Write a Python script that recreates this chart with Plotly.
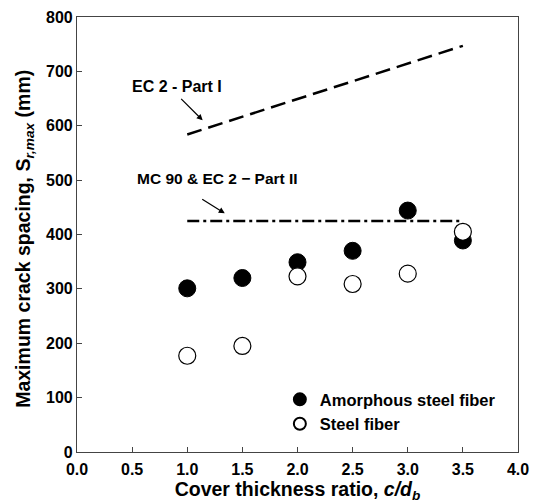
import plotly.graph_objects as go

ratio = [1.0, 1.5, 2.0, 2.5, 3.0, 3.5]
amorphous = [301, 320, 349, 370, 444, 389]
steel = [177, 195, 323, 309, 328, 405]
ec2_x = [1.0, 3.5]
ec2_y = [584, 747]
mc90_x = [1.0, 3.5]
mc90_y = [425, 425]

FONT = "Liberation Sans, Arial, sans-serif"
fig = go.Figure()
fig.add_trace(go.Scatter(x=ec2_x, y=ec2_y, mode="lines", showlegend=False,
                         line=dict(color="black", width=2.5, dash="15px,7px")))
fig.add_trace(go.Scatter(x=mc90_x, y=mc90_y, mode="lines", showlegend=False,
                         line=dict(color="black", width=2.5, dash="12px,4px,3px,4px")))
fig.add_trace(go.Scatter(x=ratio, y=amorphous, mode="markers", name="Amorphous steel fiber",
                         marker=dict(size=17, color="black", line=dict(color="black", width=1))))
fig.add_trace(go.Scatter(x=ratio, y=steel, mode="markers", name="Steel fiber",
                         marker=dict(size=17, color="white", line=dict(color="black", width=1.2))))

fig.add_annotation(text="EC 2 - Part I", x=0.91, y=673, xref="x", yref="y",
                   showarrow=False, font=dict(size=16, family=FONT, color="black", weight="bold"))
fig.add_annotation(x=1.14, y=610, xref="x", yref="y", ax=-23, ay=-23,
                   showarrow=True, arrowhead=2, arrowsize=1, arrowwidth=1.2, arrowcolor="black", text="")
fig.add_annotation(text="MC 90 & EC 2 − Part II", x=1.27, y=503, xref="x", yref="y",
                   showarrow=False, font=dict(size=15.5, family=FONT, color="black", weight="bold"))
fig.add_annotation(x=1.34, y=439, xref="x", yref="y", ax=-24, ay=-15,
                   showarrow=True, arrowhead=2, arrowsize=1, arrowwidth=1.2, arrowcolor="black", text="")
# y-axis title as rotated annotation for precise placement
fig.add_annotation(text="Maximum crack spacing, S<sub><i>r,max</i></sub> (mm)",
                   x=-0.118, y=0.49, xref="paper", yref="paper", textangle=-90,
                   xanchor="center", yanchor="middle", showarrow=False,
                   font=dict(size=19.5, family=FONT, color="black", weight="bold"))

axis_common = dict(showline=True, linecolor="#444", linewidth=1.2, mirror=True, automargin=False,
                   ticks="inside", ticklen=5, tickcolor="#444", showgrid=False, zeroline=False,
                   tickfont=dict(size=16, family=FONT, color="black", weight="bold"))
fig.update_xaxes(range=[0, 4], dtick=0.5, tickformat=".1f", ticklabelstandoff=3,
                 title=dict(text="Cover thickness ratio, <i>c/d<sub>b</sub></i>",
                            font=dict(size=19.5, family=FONT, color="black", weight="bold"), standoff=2),
                 **axis_common)
fig.update_yaxes(range=[0, 800], dtick=100, **axis_common)
fig.update_layout(width=538, height=503, margin=dict(l=77, r=20, t=17, b=51),
                  plot_bgcolor="white", paper_bgcolor="white",
                  legend=dict(x=0.46, y=0.025, xanchor="left", yanchor="bottom",
                              bgcolor="rgba(0,0,0,0)",
                              font=dict(size=16.5, family=FONT, color="black", weight="bold"),
                              itemsizing="constant", tracegroupgap=0))
fig.write_html("out.html")
